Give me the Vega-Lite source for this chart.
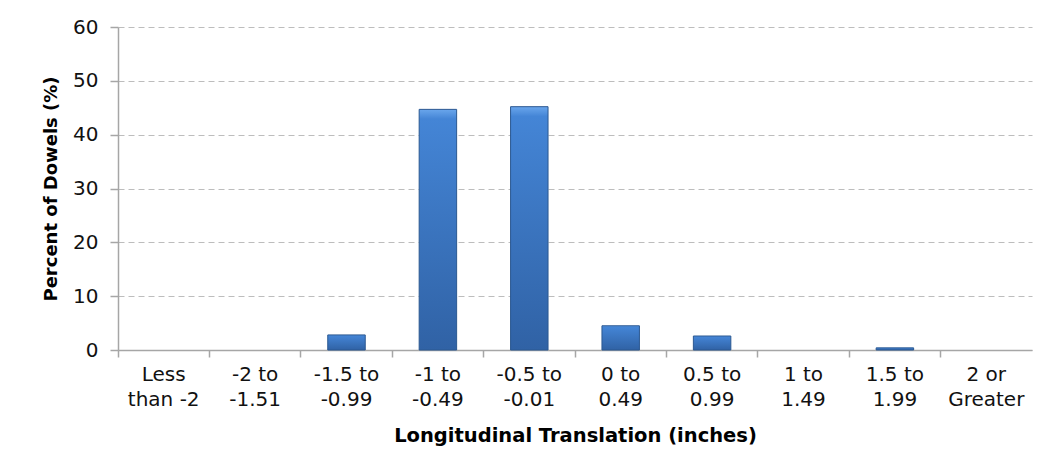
{
  "$schema": "https://vega.github.io/schema/vega-lite/v6.json",
  "autosize": {"type": "none"},
  "width": 914,
  "height": 323,
  "padding": {"left": 118, "top": 27, "right": 18, "bottom": 115},
  "background": "white",
  "data": {
    "values": [
      {"range": "Less than -2", "percent": 0},
      {"range": "-2 to -1.51", "percent": 0},
      {"range": "-1.5 to -0.99", "percent": 2.8},
      {"range": "-1 to -0.49", "percent": 44.7},
      {"range": "-0.5 to -0.01", "percent": 45.2},
      {"range": "0 to 0.49", "percent": 4.5},
      {"range": "0.5 to 0.99", "percent": 2.6},
      {"range": "1 to 1.49", "percent": 0},
      {"range": "1.5 to 1.99", "percent": 0.4},
      {"range": "2 or Greater", "percent": 0}
    ]
  },
  "mark": {
    "type": "bar",
    "width": {"band": 0.41},
    "stroke": "#2b5891",
    "strokeWidth": 1,
    "color": {
      "gradient": "linear",
      "x1": 0, "y1": 0, "x2": 0, "y2": 1,
      "stops": [
        {"offset": 0, "color": "#6aa6ec"},
        {"offset": 0.04, "color": "#4485d6"},
        {"offset": 1, "color": "#3062a5"}
      ]
    }
  },
  "encoding": {
    "x": {
      "field": "range",
      "type": "nominal",
      "sort": null,
      "scale": {"paddingInner": 0, "paddingOuter": 0},
      "axis": {
        "title": "Longitudinal Translation (inches)",
        "titleFont": "DejaVu Sans",
        "titleFontSize": 19.5,
        "titleFontWeight": "bold",
        "titleColor": "#000000",
        "titlePadding": 17,
        "labelAngle": 0,
        "labelFont": "DejaVu Sans",
        "labelFontSize": 20,
        "labelColor": "#111111",
        "labelLineHeight": 25,
        "labelPadding": 7,
        "labelBaseline": "top",
        "bandPosition": 0,
        "labelExpr": "datum.label == 'Less than -2' ? ['Less', 'than -2'] : datum.label == '2 or Greater' ? ['2 or', 'Greater'] : [split(datum.label, ' to ')[0] + ' to', split(datum.label, ' to ')[1]]",
        "tickSize": 7,
        "tickColor": "#a6a6a6",
        "domainColor": "#a6a6a6",
        "domainWidth": 1.5,
        "tickWidth": 1.5,
        "grid": false
      }
    },
    "y": {
      "field": "percent",
      "type": "quantitative",
      "scale": {"domain": [0, 60], "nice": false},
      "axis": {
        "title": "Percent of Dowels (%)",
        "titleFont": "DejaVu Sans",
        "titleFontSize": 18,
        "titleFontWeight": "bold",
        "titleColor": "#000000",
        "titlePadding": 12,
        "values": [0, 10, 20, 30, 40, 50, 60],
        "labelFont": "DejaVu Sans",
        "labelFontSize": 20,
        "labelColor": "#111111",
        "labelPadding": 12,
        "tickSize": 8,
        "tickColor": "#a6a6a6",
        "tickWidth": 1.5,
        "domainColor": "#a6a6a6",
        "domainWidth": 1.5,
        "grid": true,
        "gridColor": "#bdbdbd",
        "gridDash": [6, 4],
        "gridWidth": 1.2
      }
    },
    "strokeOpacity": {
      "condition": {"test": "datum.percent == 0", "value": 0},
      "value": 1
    }
  },
  "config": {
    "view": {"stroke": null}
  }
}
